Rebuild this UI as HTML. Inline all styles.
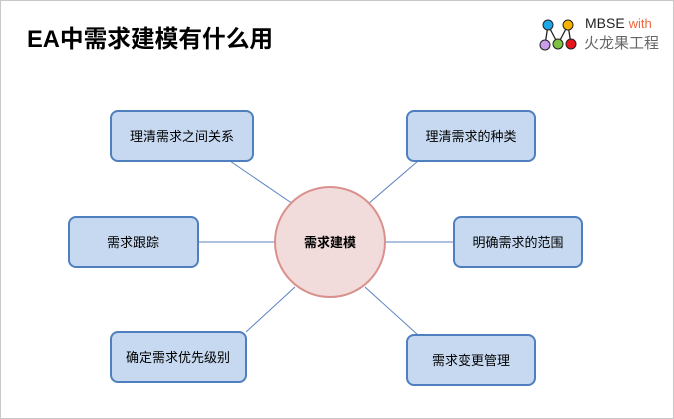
<!DOCTYPE html>
<html><head><meta charset="utf-8"><style>
body{margin:0;width:674px;height:419px;overflow:hidden;background:#fff;font-family:"Liberation Sans","Noto Sans CJK SC",sans-serif}
</style></head><body>
<svg width="674" height="419" xmlns="http://www.w3.org/2000/svg" style="position:absolute;left:0;top:0">
<rect x="0.5" y="0.5" width="673" height="418" fill="#fff" stroke="#c8c8c8"/>
<text x="27" y="47" font-size="23.7" font-weight="bold" fill="#000" font-family="Liberation Sans,Noto Sans CJK SC,sans-serif">EA中需求建模有什么用</text>
<g stroke="#222" stroke-width="1.3">
<line x1="548" y1="25" x2="545" y2="45"/><line x1="548" y1="25" x2="558" y2="44"/><line x1="568" y1="25" x2="558" y2="44"/><line x1="568" y1="25" x2="571" y2="44"/>
</g>
<g stroke="#222" stroke-width="1">
<circle cx="548" cy="25" r="5" fill="#1aa7e8"/><circle cx="568" cy="25" r="5" fill="#f6b400"/>
<circle cx="545" cy="45" r="5" fill="#c89ee8"/><circle cx="558" cy="44" r="5" fill="#7dc243"/><circle cx="571" cy="44" r="5" fill="#e8141a"/>
</g>
<text x="585" y="28" font-size="14" fill="#222">MBSE <tspan fill="#f0663a" font-size="13">with</tspan></text>
<text x="584" y="48" font-size="15" fill="#666" font-family="Noto Sans CJK SC,sans-serif">火龙果工程</text>
<g stroke="#5a82c0" stroke-width="1">
<line x1="230" y1="161" x2="293" y2="204"/>
<line x1="198" y1="242" x2="275" y2="242"/>
<line x1="246" y1="332" x2="295" y2="287"/>
<line x1="418" y1="161" x2="368" y2="204"/>
<line x1="385" y1="242" x2="454" y2="242"/>
<line x1="418" y1="335" x2="365" y2="287"/>
</g>
<g fill="#c6d9f1" stroke="#4f7fbe" stroke-width="2">
<rect x="111" y="111" width="142" height="50" rx="7"/>
<rect x="69" y="217" width="129" height="50" rx="7"/>
<rect x="111" y="332" width="135" height="50" rx="7"/>
<rect x="407" y="111" width="128" height="50" rx="7"/>
<rect x="454" y="217" width="128" height="50" rx="7"/>
<rect x="407" y="335" width="128" height="50" rx="7"/>
</g>
<circle cx="330" cy="242" r="55" fill="#f2dbdb" stroke="#d9918e" stroke-width="2"/>
<g font-size="13" fill="#000" text-anchor="middle" font-family="Liberation Sans,Noto Sans CJK SC,sans-serif">
<text x="182" y="141">理清需求之间关系</text>
<text x="133" y="247">需求跟踪</text>
<text x="178" y="362">确定需求优先级别</text>
<text x="471" y="141">理清需求的种类</text>
<text x="518" y="247">明确需求的范围</text>
<text x="471" y="365">需求变更管理</text>
<text x="330" y="247" font-weight="bold">需求建模</text>
</g>
</svg>
</body></html>
